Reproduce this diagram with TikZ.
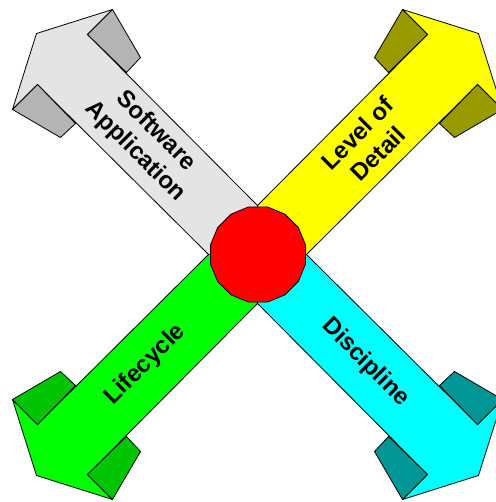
\documentclass[tikz,border=0pt]{standalone}
\usepackage{fontspec}
\setmainfont{Liberation Sans}
\usetikzlibrary{shapes.geometric}
\definecolor{softGrey}{HTML}{E4E4E4}
\definecolor{softGreyDark}{HTML}{B4B4B4}
\definecolor{detailYellow}{HTML}{FFFF00}
\definecolor{detailYellowDark}{HTML}{999900}
\definecolor{lifeGreen}{HTML}{00FF00}
\definecolor{lifeGreenDark}{HTML}{00C400}
\definecolor{discCyan}{HTML}{00FFFF}
\definecolor{discCyanDark}{HTML}{009696}
\definecolor{hubRed}{HTML}{FF0000}
\tikzset{
  % thin black outline round every face, clip-art style
  every picture/.append style = {line width=0.8pt, line join=round},
  outline/.style = {draw=black},
  armlbl/.style  = {font=\fontsize{24}{29}\selectfont\bfseries, align=center, inner sep=0pt},
  hubdot/.style  = {regular polygon, regular polygon sides=16, draw=black, fill=hubRed,
                    minimum size=97pt, inner sep=0pt},
  % one arm pointing up-left; the others are mirror copies
  arm/.pic = {
    \filldraw[outline, fill=#1] (0,0) -- (0,49) -- (-170,220) -- (-145,245)
      -- (-221,221) -- (-245,145) -- (-220,170) -- (-49,0) -- cycle;
    \filldraw[outline, fill=#1Dark] (-170,220) -- (-145,245) -- (-117,197) -- (-131,182) -- cycle;
    \filldraw[outline, fill=#1Dark] (-220,170) -- (-245,145) -- (-197,117) -- (-182,131) -- cycle;
  },
}

\begin{document}
\begin{tikzpicture}[x=1pt, y=1pt]
\useasboundingbox (-257.5,-247.5) rectangle (237.5,254.5);

% ---- the four arms -------------------------------------------------------
\pic at (0,0) {arm=softGrey};
\pic[xscale=-1] at (0,0) {arm=detailYellow};
\pic[yscale=-1] at (0,0) {arm=lifeGreen};
\pic[xscale=-1, yscale=-1] at (0,0) {arm=discCyan};

% ---- hub where they cross ------------------------------------------------
\node[hubdot] (hub) at (0.5,0) {};

% ---- labels along the shafts ---------------------------------------------
\node[armlbl, rotate=-45] (soft)   at (-112,113) {Software\\Application};
\node[armlbl, rotate=45]  (detail) at (110,111)  {Level of\\Detail};
\node[armlbl, rotate=45]  (life)   at (-112,-110) {Lifecycle};
\node[armlbl, rotate=-45] (disc)   at (108,-108) {Discipline};
\end{tikzpicture}
\end{document}
